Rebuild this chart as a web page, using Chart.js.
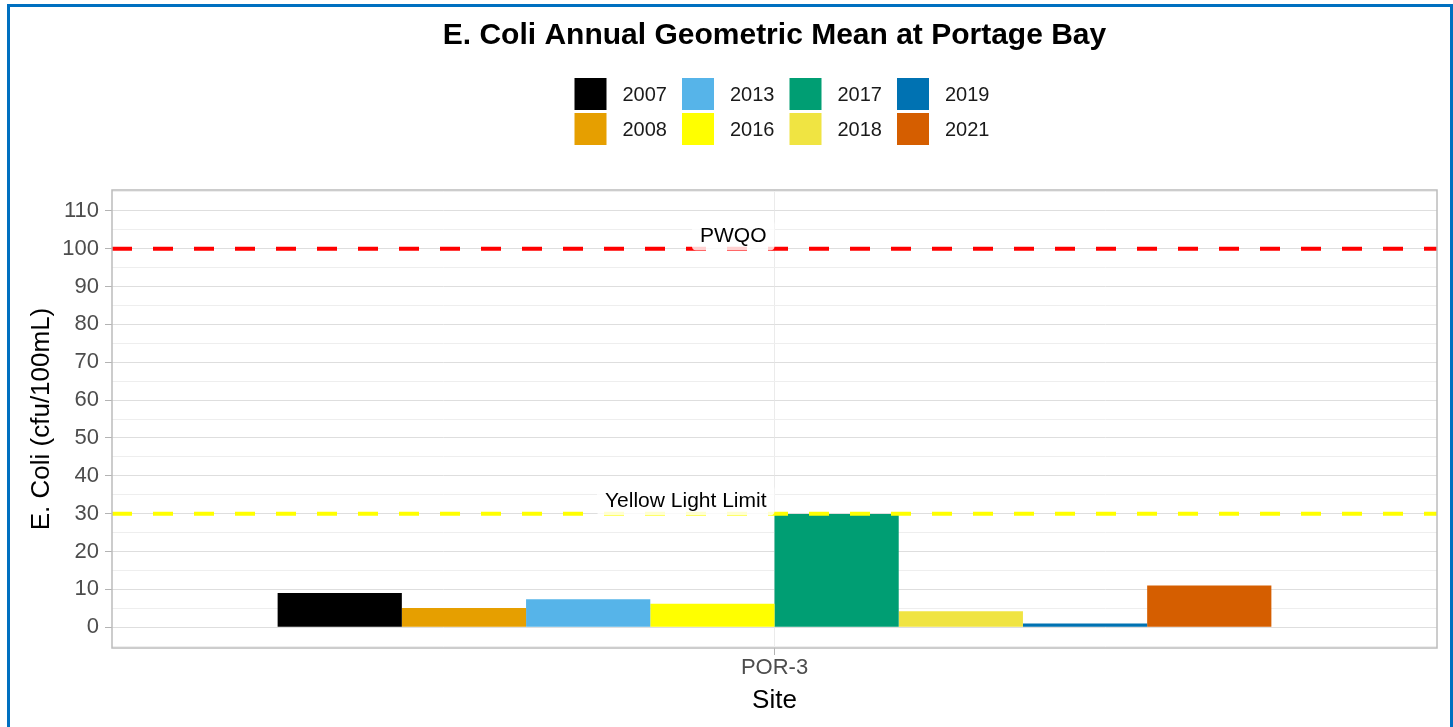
<!DOCTYPE html>
<html>
<head>
<meta charset="utf-8">
<title>E. Coli Annual Geometric Mean at Portage Bay</title>
<script src="https://cdn.jsdelivr.net/npm/chart.js@4.4.0/dist/chart.umd.min.js"></script>
<style>
    html, body { margin: 0; padding: 0; background: #fff; overflow: hidden; }
    #wrap { position: absolute; left: 0; top: 0; width: 1453px; height: 727px; }
    #frame {
        position: absolute; left: 7px; top: 4px; width: 1446px; height: 800px;
        border: 3px solid #0070c0; box-sizing: border-box; pointer-events: none;
    }
</style>
</head>
<body>
<div id="wrap"><canvas id="ecoliChart"></canvas></div>
<div id="frame"></div>
<script>
// Data
const sites = ['POR-3'];
const years = ['2007', '2008', '2013', '2016', '2017', '2018', '2019', '2021'];
const geoMeans = [9.0, 5.1, 7.4, 6.2, 29.9, 4.2, 1.0, 11.0];
const yearColors = ['#000000', '#E69F00', '#56B4E9', '#FFFF00', '#009E73', '#F0E442', '#0072B2', '#D55E00'];

// Guideline levels
const limitValues = [100, 30];
const limitLabels = ['PWQO', 'Yellow Light Limit'];
const limitColors = ['#FF0000', '#FFFF00'];

// Labelled y ticks (minor grid every 5)
const yTickLabels = [0, 10, 20, 30, 40, 50, 60, 70, 80, 90, 100, 110];

const chartTitle = 'E. Coli Annual Geometric Mean at Portage Bay';
const fontFamily = "'Liberation Sans', Arial, sans-serif";
Chart.defaults.font.family = fontFamily;

// Title centred over the plot panel
const panelTitle = {
    id: 'panelTitle',
    afterDraw(chart) {
        const { ctx, chartArea: a } = chart;
        ctx.save();
        ctx.font = 'bold 30px ' + fontFamily;
        ctx.fillStyle = '#000';
        ctx.textAlign = 'center';
        ctx.textBaseline = 'middle';
        ctx.fillText(chartTitle, (a.left + a.right) / 2, 36);
        ctx.restore();
    }
};

// Panel border round the plot area
const panelBorder = {
    id: 'panelBorder',
    afterDraw(chart) {
        const { ctx, chartArea: a } = chart;
        ctx.save();
        ctx.strokeStyle = '#bcbcbc';
        ctx.lineWidth = 1.5;
        ctx.strokeRect(a.left, a.top, a.right - a.left, a.bottom - a.top);
        ctx.restore();
    }
};

// Dashed guideline lines with labels
const limitLines = {
    id: 'limitLines',
    afterDatasetsDraw(chart) {
        const { ctx, chartArea: a, scales } = chart;
        ctx.save();
        ctx.beginPath();
        ctx.rect(a.left, a.top, a.right - a.left, a.bottom - a.top);
        ctx.clip();
        limitValues.forEach((v, i) => {
            const y = scales.y.getPixelForValue(v);
            ctx.strokeStyle = limitColors[i];
            ctx.lineWidth = 4;
            ctx.setLineDash([20, 21]);
            ctx.beginPath();
            ctx.moveTo(a.left, y);
            ctx.lineTo(a.right, y);
            ctx.stroke();
        });
        ctx.setLineDash([]);
        const xRight = scales.x.getPixelForValue(0);
        ctx.font = '21px ' + fontFamily;
        ctx.textAlign = 'right';
        ctx.textBaseline = 'middle';
        limitValues.forEach((v, i) => {
            const y = scales.y.getPixelForValue(v);
            const mid = y - 13.5;
            const w = ctx.measureText(limitLabels[i]).width + 16;
            ctx.fillStyle = 'rgba(255,255,255,0.82)';
            ctx.beginPath();
            ctx.roundRect(xRight - w, mid - 15, w, 30, 4);
            ctx.fill();
            ctx.fillStyle = '#000';
            ctx.fillText(limitLabels[i], xRight - 8, mid + 1);
        });
        ctx.restore();
    }
};

// Legend laid out column by column in two rows
const yearLegend = {
    id: 'yearLegend',
    afterDraw(chart) {
        const { ctx, chartArea: a } = chart;
        const rows = 2;
        const colWidth = 107.5;
        const rowPitch = 35;
        const box = 32;
        const left = (a.left + a.right) / 2 - 200;
        const top = 78;
        ctx.save();
        ctx.font = '20px ' + fontFamily;
        ctx.textAlign = 'left';
        ctx.textBaseline = 'middle';
        years.forEach((yr, i) => {
            const col = Math.floor(i / rows);
            const row = i % rows;
            const x = left + col * colWidth;
            const y = top + row * rowPitch;
            ctx.fillStyle = yearColors[i];
            ctx.fillRect(x, y, box, box);
            ctx.fillStyle = '#1a1a1a';
            ctx.fillText(yr, x + 48, y + box / 2 + 1);
        });
        ctx.restore();
    }
};

const datasets = years.map((yr, i) => ({
    label: yr,
    data: [geoMeans[i]],
    backgroundColor: yearColors[i],
    borderWidth: 0,
    categoryPercentage: 0.75,
    barPercentage: 1.0
}));

new Chart(document.getElementById('ecoliChart'), {
    type: 'bar',
    data: { labels: sites, datasets },
    options: {
        responsive: true,
        maintainAspectRatio: false,
        animation: false,
        layout: { padding: { left: 0, right: 16, top: 190, bottom: 0 } },
        plugins: {
            legend: { display: false },
            tooltip: { enabled: false },
            title: { display: false }
        },
        scales: {
            x: {
                ticks: { color: '#4d4d4d', font: { size: 22 }, padding: 0 },
                grid: { offset: false, color: '#ebebeb', tickColor: '#b3b3b3', tickLength: 7 },
                border: { display: false },
                title: {
                    display: true, text: 'Site', color: '#000',
                    font: { size: 26 }, padding: { top: 0, bottom: 11 }
                },
                afterFit: s => { s.height = 79; }
            },
            y: {
                min: -5.5,
                max: 115.5,
                ticks: {
                    stepSize: 5,
                    maxTicksLimit: 40,
                    autoSkip: false,
                    includeBounds: false,
                    color: '#4d4d4d',
                    font: { size: 22 },
                    padding: 6,
                    callback: v => yTickLabels.includes(v) ? v : ''
                },
                grid: {
                    color: c => (c.tick && c.tick.value % 10 === 0) ? '#dedede' : '#eeeeee',
                    tickColor: c => (c.tick && yTickLabels.includes(c.tick.value)) ? '#b3b3b3' : 'rgba(0,0,0,0)',
                    tickLength: 7
                },
                border: { display: false },
                title: {
                    display: true, text: 'E. Coli (cfu/100mL)', color: '#000',
                    font: { size: 26 }, padding: { top: 26, bottom: 0 }
                },
                afterFit: s => { s.width = 112; }
            }
        }
    },
    plugins: [limitLines, panelBorder, yearLegend, panelTitle]
});
</script>
</body>
</html>
